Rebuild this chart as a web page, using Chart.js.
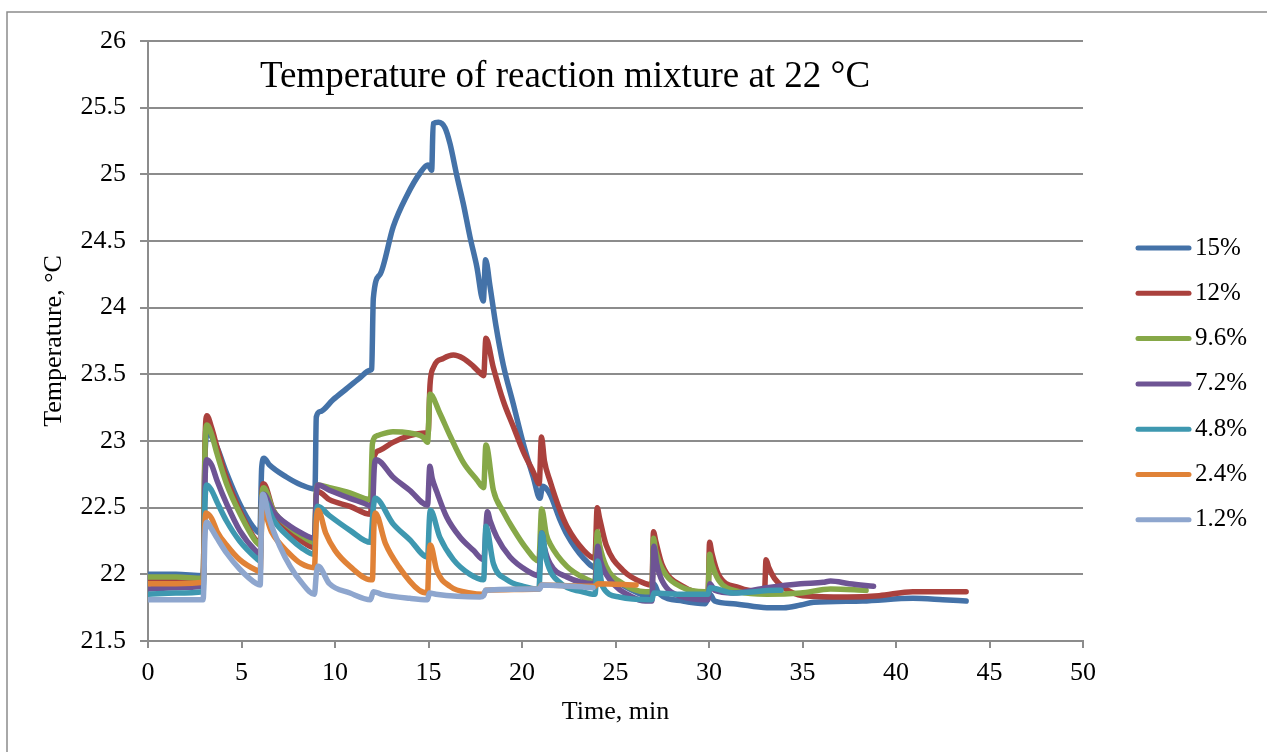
<!DOCTYPE html>
<html>
<head>
<meta charset="utf-8">
<title>Temperature of reaction mixture at 22 °C</title>
<script src="https://cdn.jsdelivr.net/npm/chart.js@4.4.1/dist/chart.umd.min.js"></script>
<style>
  html, body { margin: 0; padding: 0; background: #fff; }
  canvas { display: block; }
</style>
</head>
<body>
<canvas id="reactionTemp" width="1267" height="752"></canvas>
<script>
// Logged temperature, [time in min, temperature in °C], one run per catalyst concentration
const run15 = [
  [0, 22.0], [1.5, 22.0], [2.95, 21.99],
  [3.05, 22.9], [3.2, 23.07], [3.45, 23.02], [3.7, 22.95], [4.2, 22.76], [4.9, 22.53], [5.6, 22.36], [5.98, 22.31],
  [6.08, 22.8], [6.2, 22.87], [6.5, 22.82], [7.4, 22.73], [8.2, 22.67], [8.93, 22.64],
  [9.0, 23.18], [9.2, 23.22], [9.9, 23.31], [10.6, 23.39], [11.3, 23.47], [11.88, 23.53], [11.96, 23.54],
  [12.05, 24.07], [12.41, 24.25], [13.12, 24.61], [13.84, 24.84], [14.55, 25.01], [14.97, 25.07], [15.17, 25.03],
  [15.25, 25.38], [15.53, 25.39], [15.88, 25.35], [16.15, 25.23], [16.5, 25.0], [16.86, 24.78], [17.22, 24.53], [17.58, 24.31], [17.93, 24.05],
  [18.05, 24.36], [18.29, 24.16], [18.6, 23.87], [19.0, 23.57], [19.53, 23.28], [20.07, 22.98], [20.6, 22.73], [20.96, 22.57],
  [21.1, 22.66], [21.5, 22.6], [22.0, 22.42], [22.4, 22.3], [23.3, 22.12], [23.95, 22.05],
  [24.05, 22.18], [24.3, 22.1], [24.7, 22.0], [25.9, 21.88], [26.95, 21.83], [27.05, 21.93], [27.3, 21.86],
  [28.6, 21.8], [29.8, 21.78], [30.05, 21.85], [30.3, 21.8], [31.3, 21.78], [33.1, 21.75], [34.0, 21.75],
  [34.9, 21.77], [35.6, 21.79], [38.2, 21.8], [40.9, 21.82], [42.5, 21.81], [43.75, 21.8]
];
const run12 = [
  [0, 21.95], [1.5, 21.95], [2.95, 21.95],
  [3.05, 23.0], [3.15, 23.19], [3.4, 23.1], [3.7, 22.95], [4.2, 22.72], [4.9, 22.48], [5.8, 22.25], [6.0, 22.23],
  [6.1, 22.62], [6.18, 22.68], [6.7, 22.48], [7.6, 22.32], [8.2, 22.25], [8.9, 22.2],
  [9.0, 22.6], [9.1, 22.62], [9.7, 22.56], [10.8, 22.51], [11.9, 22.45],
  [12.05, 22.86], [12.4, 22.93], [13.1, 22.99], [14.0, 23.04], [14.8, 23.06], [14.98, 23.06],
  [15.08, 23.42], [15.26, 23.55], [15.8, 23.62], [16.33, 23.645], [16.86, 23.62], [17.4, 23.56], [17.84, 23.5], [17.95, 23.49],
  [18.07, 23.77], [18.47, 23.55], [19.0, 23.3], [19.53, 23.11], [20.07, 22.92], [20.6, 22.77], [20.92, 22.68],
  [21.04, 23.03], [21.2, 22.85], [21.5, 22.7], [22.03, 22.48], [22.4, 22.36], [23.3, 22.18], [23.9, 22.12],
  [24.02, 22.5], [24.15, 22.42], [24.5, 22.22], [25.4, 22.03], [26.6, 21.93], [26.95, 21.92],
  [27.03, 22.32], [27.15, 22.25], [27.5, 22.07], [28.6, 21.91], [29.8, 21.86], [29.95, 21.86],
  [30.03, 22.24], [30.15, 22.16], [30.5, 22.0], [31.6, 21.9], [32.8, 21.87], [32.97, 21.87],
  [33.05, 22.11], [33.2, 22.05], [33.5, 21.97], [34.0, 21.9], [34.5, 21.86], [35.0, 21.84],
  [37.4, 21.83], [39.1, 21.84], [40.9, 21.87], [43.75, 21.87]
];
const run96 = [
  [0, 21.98], [1.5, 21.98], [2.95, 21.97],
  [3.05, 22.95], [3.15, 23.12], [3.4, 23.05], [3.7, 22.9], [4.2, 22.68], [4.9, 22.46], [5.8, 22.24], [6.0, 22.22],
  [6.1, 22.6], [6.18, 22.65], [6.7, 22.48], [7.6, 22.35], [8.2, 22.29], [8.9, 22.24],
  [9.0, 22.62], [9.1, 22.67], [9.7, 22.65], [10.8, 22.61], [11.9, 22.56],
  [12.0, 22.98], [12.25, 23.04], [13.1, 23.07], [14.0, 23.06], [14.7, 23.03], [14.95, 22.99],
  [15.08, 23.35], [15.6, 23.21], [16.15, 23.04], [16.86, 22.84], [17.58, 22.71], [17.95, 22.65],
  [18.07, 22.97], [18.47, 22.63], [19.0, 22.47], [19.53, 22.34], [20.25, 22.19], [20.9, 22.1],
  [21.05, 22.49], [21.3, 22.3], [21.5, 22.23], [22.4, 22.06], [23.5, 21.96], [23.9, 21.94],
  [24.03, 22.32], [24.15, 22.22], [24.5, 22.06], [25.4, 21.93], [26.6, 21.87], [26.95, 21.87],
  [27.03, 22.27], [27.15, 22.18], [27.5, 22.04], [28.6, 21.9], [29.8, 21.87], [29.95, 21.87],
  [30.03, 22.15], [30.15, 22.08], [30.5, 21.96], [31.6, 21.87], [33.1, 21.85], [34.9, 21.86],
  [36.5, 21.89], [38.4, 21.88]
];
const run72 = [
  [0, 21.89], [1.5, 21.9], [2.95, 21.91],
  [3.05, 22.7], [3.15, 22.86], [3.4, 22.82], [3.7, 22.7], [4.2, 22.53], [4.9, 22.33], [5.8, 22.17], [6.0, 22.15],
  [6.1, 22.55], [6.18, 22.6], [6.7, 22.47], [7.6, 22.36], [8.2, 22.31], [8.9, 22.27],
  [9.0, 22.6], [9.1, 22.67], [9.7, 22.63], [10.8, 22.57], [11.9, 22.51], [12.0, 22.5],
  [12.1, 22.8], [12.2, 22.86], [13.1, 22.73], [14.0, 22.63], [14.95, 22.52],
  [15.07, 22.81], [15.2, 22.72], [15.44, 22.62], [15.97, 22.43], [16.68, 22.28], [17.4, 22.18], [17.95, 22.11],
  [18.15, 22.47], [18.3, 22.4], [18.65, 22.28], [19.36, 22.13], [20.25, 22.03], [20.9, 21.99],
  [21.06, 22.31], [21.2, 22.2], [21.5, 22.08], [22.4, 21.98], [23.9, 21.93],
  [24.05, 22.21], [24.2, 22.1], [24.7, 21.96], [25.9, 21.83], [26.6, 21.8], [26.95, 21.8],
  [27.05, 22.21], [27.2, 22.08], [27.5, 21.95], [28.6, 21.83], [29.8, 21.81], [29.95, 21.81],
  [30.05, 21.93], [30.3, 21.88], [31.3, 21.86], [33.1, 21.9], [34.9, 21.93], [36.1, 21.94],
  [36.5, 21.95], [37.5, 21.93], [38.8, 21.91]
];
const run48 = [
  [0, 21.85], [1.5, 21.86], [2.95, 21.87],
  [3.05, 22.55], [3.15, 22.67], [3.4, 22.63], [3.7, 22.54], [4.2, 22.4], [4.9, 22.25], [5.8, 22.12], [6.0, 22.1],
  [6.1, 22.5], [6.18, 22.56], [6.7, 22.41], [7.6, 22.27], [8.2, 22.2], [8.9, 22.15],
  [9.0, 22.45], [9.07, 22.51], [9.7, 22.44], [10.8, 22.33], [11.9, 22.24],
  [12.05, 22.5], [12.15, 22.57], [13.1, 22.38], [14.0, 22.26], [14.95, 22.13],
  [15.05, 22.42], [15.1, 22.48], [15.6, 22.28], [16.33, 22.11], [17.22, 22.0], [17.95, 21.96],
  [18.07, 22.36], [18.47, 22.08], [19.18, 21.96], [20.07, 21.91], [20.9, 21.89],
  [21.06, 22.31], [21.3, 22.11], [22.1, 21.93], [23.2, 21.87], [23.9, 21.85],
  [24.05, 22.1], [24.3, 21.91], [25.2, 21.83], [26.8, 21.81], [26.95, 21.81],
  [27.05, 21.86], [28.6, 21.85], [29.95, 21.85], [30.05, 21.9], [31.3, 21.86], [33.6, 21.88], [33.85, 21.88]
];
const run24 = [
  [0, 21.93], [1.5, 21.93], [2.95, 21.94],
  [3.03, 22.35], [3.1, 22.46], [3.4, 22.42], [3.7, 22.32], [4.2, 22.22], [4.9, 22.11], [5.8, 22.03], [6.0, 22.02],
  [6.08, 22.4], [6.15, 22.48], [6.6, 22.32], [7.6, 22.15], [8.2, 22.08], [8.9, 22.05],
  [9.0, 22.4], [9.1, 22.48], [9.5, 22.31], [10.0, 22.18], [10.8, 22.06], [11.9, 21.96], [12.0, 21.96],
  [12.08, 22.35], [12.15, 22.46], [12.7, 22.23], [13.4, 22.06], [14.5, 21.88], [14.95, 21.86],
  [15.03, 22.15], [15.1, 22.22], [15.44, 22.03], [16.15, 21.91], [17.22, 21.86], [17.95, 21.85],
  [18.07, 21.88], [20.9, 21.89], [21.05, 21.92], [23.9, 21.91], [24.05, 21.93], [26.1, 21.92]
];
const run12b = [
  [0, 21.81], [1.5, 21.81], [2.95, 21.81],
  [3.05, 22.3], [3.15, 22.39], [3.4, 22.34], [3.7, 22.27], [4.2, 22.16], [4.9, 22.04], [5.8, 21.93], [6.0, 21.92],
  [6.08, 22.5], [6.15, 22.6], [6.5, 22.41], [7.05, 22.21], [7.6, 22.06], [8.2, 21.94], [8.9, 21.85],
  [9.0, 22.0], [9.1, 22.06], [9.7, 21.93], [10.8, 21.86], [11.9, 21.81],
  [12.05, 21.87], [12.5, 21.85], [14.0, 21.82], [14.95, 21.81],
  [15.05, 21.86], [15.4, 21.85], [17.75, 21.83], [17.95, 21.84],
  [18.05, 21.88], [20.6, 21.89], [20.95, 21.89], [21.05, 21.92], [23.8, 21.9]
];

const concentrations = ['15%', '12%', '9.6%', '7.2%', '4.8%', '2.4%', '1.2%'];
const runs = [run15, run12, run96, run72, run48, run24, run12b];
const lineColors = ['#4472a8', '#aa413d', '#86a848', '#6e5494', '#3e98b0', '#e08237', '#8ea6ce'];

const xTicksMax = 50;
const yTicksMin = 21.5;
const yTicksMax = 26;

const gridColor = '#8c8c8c';
const serif = '"Liberation Serif", "Times New Roman", serif';

Chart.defaults.font.family = serif;
Chart.defaults.color = '#000';

// white page with the grey frame along the top and left
const framePlugin = {
  id: 'frame',
  beforeDraw(chart) {
    const ctx = chart.ctx;
    ctx.save();
    ctx.fillStyle = '#fff';
    ctx.fillRect(0, 0, chart.width, chart.height);
    ctx.strokeStyle = gridColor;
    ctx.lineWidth = 1.5;
    ctx.beginPath();
    ctx.moveTo(7, chart.height);
    ctx.lineTo(7, 12);
    ctx.lineTo(chart.width, 12);
    ctx.stroke();
    ctx.restore();
  }
};

// title sits inside the plot, under the top gridline
const innerTitle = {
  id: 'innerTitle',
  afterDraw(chart) {
    const ctx = chart.ctx;
    ctx.save();
    ctx.font = '37px ' + serif;
    ctx.fillStyle = '#000';
    ctx.textAlign = 'center';
    ctx.textBaseline = 'alphabetic';
    ctx.fillText('Temperature of reaction mixture at 22 °C', 565, 87);
    ctx.restore();
  }
};

// legend column on the right: short line + label
const sideLegend = {
  id: 'sideLegend',
  afterDraw(chart) {
    const ctx = chart.ctx;
    ctx.save();
    ctx.font = '25px ' + serif;
    ctx.textBaseline = 'middle';
    ctx.lineCap = 'round';
    ctx.lineWidth = 5;
    chart.data.datasets.forEach((ds, i) => {
      const y = 248 + i * 45.3;
      ctx.strokeStyle = ds.borderColor;
      ctx.beginPath();
      ctx.moveTo(1138, y);
      ctx.lineTo(1189, y);
      ctx.stroke();
      ctx.fillStyle = '#000';
      ctx.fillText(ds.label, 1195, y);
    });
    ctx.restore();
  }
};

const ctx = document.getElementById('reactionTemp');

new Chart(ctx, {
  type: 'line',
  data: {
    datasets: runs.map((run, i) => ({
      label: concentrations[i],
      data: run,
      borderColor: lineColors[i],
      backgroundColor: lineColors[i],
      order: runs.length - i
    }))
  },
  options: {
    responsive: false,
    animation: false,
    devicePixelRatio: 1,
    layout: {
      padding: { left: 0, top: 41, right: 184, bottom: 0 }
    },
    elements: {
      point: { radius: 0 },
      line: {
        borderWidth: 5.5,
        cubicInterpolationMode: 'monotone',
        borderCapStyle: 'round',
        borderJoinStyle: 'round'
      }
    },
    plugins: {
      legend: { display: false },
      tooltip: { enabled: false }
    },
    scales: {
      x: {
        type: 'linear',
        min: 0,
        max: xTicksMax,
        ticks: { stepSize: 5, padding: 10, font: { size: 26 } },
        grid: { drawOnChartArea: false, tickLength: 7, color: gridColor, lineWidth: 2 },
        border: { color: gridColor, width: 2 },
        title: {
          display: true,
          text: 'Time, min',
          font: { size: 26 },
          padding: { top: 0, bottom: 24 }
        },
        afterFit(scale) { scale.height = 111; }
      },
      y: {
        min: yTicksMin,
        max: yTicksMax,
        ticks: {
          stepSize: 0.5,
          padding: 14,
          font: { size: 26 },
          callback: value => String(value)
        },
        grid: { color: gridColor, lineWidth: 2, tickLength: 8 },
        border: { color: gridColor, width: 2 },
        title: {
          display: true,
          text: 'Temperature, °C',
          font: { size: 26 },
          padding: { top: 39, bottom: 0 }
        },
        afterFit(scale) { scale.width = 148; }
      }
    }
  },
  plugins: [framePlugin, innerTitle, sideLegend]
});
</script>
</body>
</html>
